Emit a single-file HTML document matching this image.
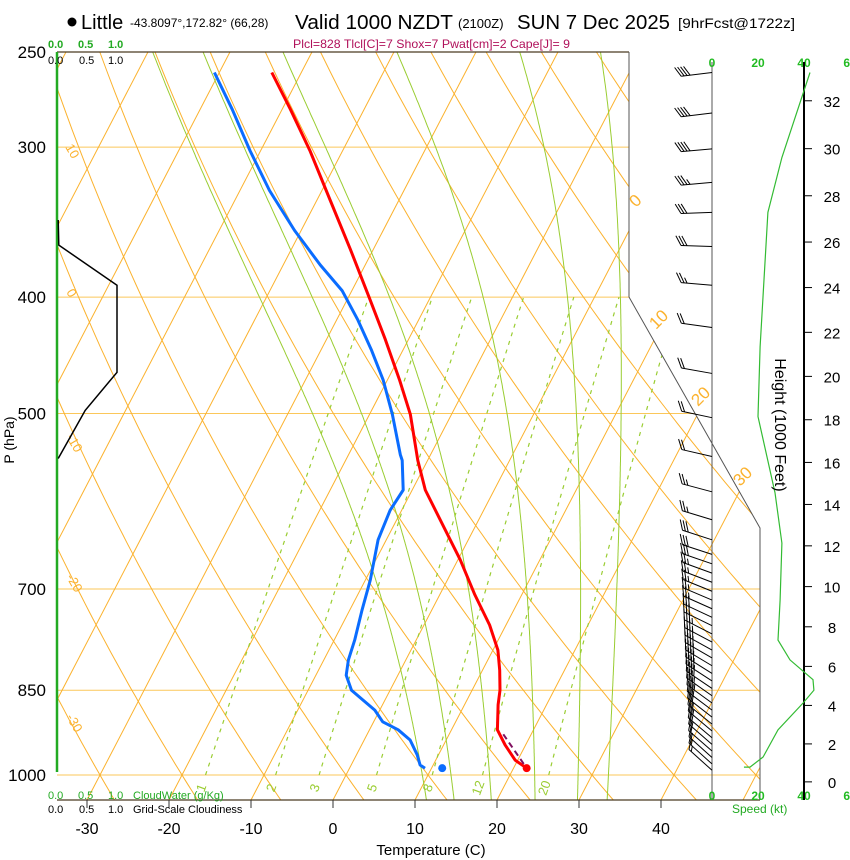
<!DOCTYPE html>
<html><head><meta charset="utf-8"><style>
html,body{margin:0;padding:0;background:#fff}
svg{display:block;font-family:"Liberation Sans",Arial,sans-serif}
</style></head><body>
<svg id="chart" width="850" height="860" viewBox="0 0 850 860" xmlns="http://www.w3.org/2000/svg">
<defs><clipPath id="plotclip"><polygon points="57,52 629,52 629,297 760,528 760,800 57,800"/></clipPath></defs>
<rect x="0" y="0" width="850" height="860" fill="#fff"/>
<g id="grid" clip-path="url(#plotclip)"></g>
<g id="series" clip-path="url(#plotclip)"></g>
<g id="overlay"></g>
<!-- header -->
<circle cx="72" cy="22" r="4.5" fill="#000"/>
<text x="81" y="29" font-size="20">Little</text>
<text x="130" y="27" font-size="12">-43.8097°,172.82° (66,28)</text>
<text x="295" y="29" font-size="20" textLength="158" lengthAdjust="spacingAndGlyphs">Valid 1000 NZDT</text>
<text x="458" y="28" font-size="13">(2100Z)</text>
<text x="517" y="29" font-size="20" textLength="153" lengthAdjust="spacingAndGlyphs">SUN 7 Dec 2025</text>
<text x="678" y="28" font-size="14" textLength="117" lengthAdjust="spacingAndGlyphs">[9hrFcst@1722z]</text>
<text x="293" y="48" font-size="12" fill="#b0105a" textLength="277" lengthAdjust="spacingAndGlyphs">Plcl=828 Tlcl[C]=7 Shox=7 Pwat[cm]=2 Cape[J]= 9</text>
<g font-size="11" fill="#22aa22" font-weight="bold">
<text x="48" y="48">0.0</text><text x="78" y="48">0.5</text><text x="108" y="48">1.0</text></g>
<g font-size="11" fill="#000">
<text x="48" y="64">0.0</text><text x="79" y="64">0.5</text><text x="108" y="64">1.0</text></g>
<g font-size="11" fill="#22aa22">
<text x="48" y="799">0.0</text><text x="78" y="799">0.5</text><text x="108" y="799">1.0</text><text x="133" y="799">CloudWater (g/Kg)</text></g>
<g font-size="11" fill="#000">
<text x="48" y="813">0.0</text><text x="79" y="813">0.5</text><text x="108" y="813">1.0</text><text x="133" y="813">Grid-Scale Cloudiness</text></g>
<text transform="translate(14,440) rotate(-90)" text-anchor="middle" font-size="14">P (hPa)</text>
<text x="431" y="855" text-anchor="middle" font-size="15">Temperature (C)</text>
<text transform="translate(775,425) rotate(90)" text-anchor="middle" font-size="16">Height (1000 Feet)</text>
<text x="732" y="813" font-size="12" fill="#22aa22">Speed (kt)</text>
<script>
// ---- data ----
const tempP = [260,279,302,332,365,402,434,469,501,547,579,613,662,708,750,787,818,850,874,917,944,972,987];
const tempT = [-53.6,-49.0,-44.0,-38.4,-32.8,-27.2,-22.8,-18.5,-15.0,-11.2,-8.4,-4.7,0.3,4.3,8.0,10.6,12.1,13.4,14.1,15.6,17.5,19.7,21.6];
const dewP = [260,279,302,326,352,376,395,418,443,469,501,541,547,579,602,637,688,729,772,802,826,850,866,883,903,917,935,962,981,987];
const dewT = [-60.6,-56.1,-51.3,-46.4,-40.8,-35.5,-31.2,-27.4,-23.8,-20.5,-17.2,-13.7,-13.1,-11.1,-11.4,-11.0,-9.4,-8.5,-7.5,-7.0,-6.3,-4.7,-2.7,-0.6,1.1,3.5,5.6,7.4,8.4,9.2];
const parcelP = [925,987];
const parcelT = [16.6,21.6];
const sfcP = 987, sfcT = 21.6, sfcTd = 11.3;
const cloudP = [345,362,391,462,497,545];
const cloudFrac = [0.02,0.03,1.0,1.0,0.47,0.02];
const windP = [260,281,301,321,340,363,391,424,463,504,543,581,613,637,655,667,679,691,703,715,727,739,751,763,775,787,799,811,823,835,847,859,871,883,895,907,919,931,943,955,967,979,991];
const windDir = [263,263,265,265,268,272,275,278,280,282,283,285,287,288,288,289,290,291,292,293,294,295,296,297,298,299,300,301,302,303,304,305,306,307,308,309,310,310,311,311,312,312,312];
const windSpd = [43,42,40,38,34,30,25,22,21,21,22,26,28,30,30,30,29,29,29,28,29,30,32,35,38,40,42,44,44,42,40,38,35,32,30,28,26,24,22,20,18,17,16];
const spdP = [260,306,340,440,503,582,641,715,772,802,833,850,871,917,966,985];
const spdKt = [42.6,30.4,24.3,20.9,20.0,27.4,30.4,29.6,28.7,33.9,43.9,44.3,39.6,28.7,22.2,16.5];
const tempTicks = [-30,-20,-10,0,10,20,30,40];
const presTicks = [250,300,400,500,700,850,1000];
const heightTicks = [0,2,4,6,8,10,12,14,16,18,20,22,24,26,28,30,32];
const speedTicks = [0,20,40,60];
const mixRatios = [1,2,3,5,8,12,20];
const moistThetaW = [9.3,12.8,17.5,23,28.3,32];

// ---- axis functions ----
const NS='http://www.w3.org/2000/svg';
function yP(p){return 775+521.5*Math.log(p/1000);}
function xT(T,p){return 333+8.2*T+0.52*(800-yP(p));}
function xSpd(s){return 712+2.3*s;}
function yFt(kft){const m=kft*1000*0.3048;const p=1013.25*Math.pow(1-2.25577e-5*m,5.2559);return yP(p);}
function mk(tag,attrs,parent){const e=document.createElementNS(NS,tag);for(const k in attrs)e.setAttribute(k,attrs[k]);parent.appendChild(e);return e;}
const grid=document.getElementById('grid'), series=document.getElementById('series'), ov=document.getElementById('overlay');
const OR='#fbb22e', GR='#9acd32';

// pressure lines
presTicks.forEach(p=>{const l=mk('line',{x1:57,x2:760,y1:yP(p),y2:yP(p),stroke:'#fbc75a','stroke-width':1},grid);
});
// isotherms
for(let T=-130;T<=50;T+=10){const l=mk('line',{x1:333+8.2*T,y1:800,x2:333+8.2*T+0.52*748,y2:52,stroke:OR,'stroke-width':1},grid);
}
// dry adiabats
for(let th=-60;th<=160;th+=10){let pts=[];for(let p=1060;p>=240;p-=10){const T=(th+273.15)*Math.pow(p/1000,0.2857)-273.15;pts.push(xT(T,p).toFixed(1)+','+yP(p).toFixed(1));}
const l=mk('polyline',{points:pts.join(' '),fill:'none',stroke:OR,'stroke-width':1},grid);
}
// moist adiabats
function es(Tc){return 6.112*Math.exp(17.67*Tc/(Tc+243.5));}
function dTdp(Tc,p){const T=Tc+273.15,e=es(Tc),rs=0.622*e/(p-e);return (287*T+2.5e6*rs)/(1005+2.5e6*2.5e6*rs*0.622/(287*T*T))/p;}
moistThetaW.forEach(tw=>{let pts=[];let T=tw;let p=1000;
 // down to 1060
 let Td=tw;for(let q=1000;q<1060;q+=2){Td+=dTdp(Td,q)*2;}
 T=Td;for(p=1060;p>=250;p-=2){pts.push(xT(T,p).toFixed(1)+','+yP(p).toFixed(1));T-=dTdp(T,p)*2;}
 const l=mk('polyline',{points:pts.join(' '),fill:'none',stroke:GR,'stroke-width':1},grid);
 });
// mixing ratio lines
mixRatios.forEach(w=>{let pts=[];for(let p=1000;p>=400;p-=10){const e=w*p/(622+w);const L=Math.log(e/6.112);const Td=243.5*L/(17.67-L);pts.push(xT(Td,p).toFixed(1)+','+yP(p).toFixed(1));}
 const l=mk('polyline',{points:pts.join(' '),fill:'none',stroke:GR,'stroke-width':1.2,'stroke-dasharray':'4,5'},grid);
 
 const e=w*1000/(622+w);const L=Math.log(e/6.112);const Td=243.5*L/(17.67-L);const x=xT(Td,1000)-4;
 const t=mk('text',{x:x,y:792,'font-size':13,fill:GR,'text-anchor':'middle',transform:'rotate(-70 '+x+' 788)'},ov);t.textContent=w;
 });
// grid labels
[[10,65,147],[0,66,292],[-10,66,437],[-20,66,577],[-30,66,717]].forEach(a=>{const t=mk('text',{x:a[1],y:a[2],'font-size':13,fill:OR,transform:'rotate(60 '+a[1]+' '+a[2]+')'},ov);t.textContent=a[0];
 });
[[0,636,208],[10,656,330],[20,698,407],[30,740,487]].forEach(a=>{const t=mk('text',{x:a[1],y:a[2],'font-size':17,fill:OR,transform:'rotate(-45 '+a[1]+' '+a[2]+')'},ov);t.textContent=a[0];
 });

// frame
let f=mk('polyline',{points:'57,52 629,52',stroke:'#4a3a20','stroke-width':1.3,fill:'none'},ov);
f=mk('polyline',{points:'629,52 629,297 760,528 760,800',stroke:'#555','stroke-width':1,fill:'none'},ov);
f=mk('line',{x1:57,y1:800,x2:760,y2:800,stroke:'#4a3a20','stroke-width':1.3},ov);
f=mk('line',{x1:57,y1:52,x2:57,y2:772,stroke:'#22aa22','stroke-width':2.5},ov);
// x ticks
tempTicks.forEach(T=>{const x=333+8.2*T;let l=mk('line',{x1:x,x2:x,y1:800,y2:808,stroke:'#333'},ov);
 const t=mk('text',{x:x,y:834,'text-anchor':'middle','font-size':16},ov);t.textContent=T;});
// y labels
presTicks.forEach(p=>{const t=mk('text',{x:46,y:yP(p)+6,'text-anchor':'end','font-size':17},ov);t.textContent=p;});
// speed axis
let sa=mk('line',{x1:712,x2:712,y1:62,y2:800,stroke:'#555','stroke-width':1},ov);
speedTicks.forEach(s=>{[67,800].forEach(yy=>{const t=mk('text',{x:xSpd(s),y:yy,'text-anchor':'middle','font-size':12,'font-weight':'bold',fill:'#22bb22'},ov);t.textContent=s;
 });});
// height axis
let ha=mk('line',{x1:804,x2:804,y1:62,y2:800,stroke:'#000','stroke-width':2},ov);
heightTicks.forEach(h=>{const y=yFt(h);let l=mk('line',{x1:804,x2:812,y1:y,y2:y,stroke:'#000'},ov);
 const t=mk('text',{x:832,y:y+6,'text-anchor':'middle','font-size':15},ov);t.textContent=h;});
// speed profile
let sp=mk('polyline',{points:spdP.map((p,i)=>xSpd(spdKt[i]).toFixed(1)+','+yP(p).toFixed(1)).join(' ')+' '+(xSpd(spdKt[spdKt.length-1])-6)+','+yP(985).toFixed(1),fill:'none',stroke:'#33bb33','stroke-width':1.2},ov);

// cloud fraction
let cf=mk('polyline',{points:cloudP.map((p,i)=>(57+60*cloudFrac[i]).toFixed(1)+','+yP(p).toFixed(1)).join(' '),fill:'none',stroke:'#000','stroke-width':1.5},ov);


// sounding
let tl=mk('polyline',{points:tempP.map((p,i)=>xT(tempT[i],p).toFixed(1)+','+yP(p).toFixed(1)).join(' '),fill:'none',stroke:'#ff0000','stroke-width':3,'stroke-linejoin':'round'},series);

let dl=mk('polyline',{points:dewP.map((p,i)=>xT(dewT[i],p).toFixed(1)+','+yP(p).toFixed(1)).join(' '),fill:'none',stroke:'#0a6cff','stroke-width':3,'stroke-linejoin':'round'},series);

let pl=mk('polyline',{points:parcelP.map((p,i)=>xT(parcelT[i],p).toFixed(1)+','+yP(p).toFixed(1)).join(' '),fill:'none',stroke:'#801060','stroke-width':2,'stroke-dasharray':'6,4'},series);

let c1=mk('circle',{cx:xT(sfcT,sfcP),cy:yP(sfcP),r:4,fill:'#ff0000'},series);
let c2=mk('circle',{cx:xT(sfcTd,sfcP),cy:yP(sfcP),r:4,fill:'#0a6cff'},series);

// wind barbs
windP.forEach((p,i)=>{const g=mk('g',{},ov);
 const y=yP(p),x=712,L=31,d=windDir[i]*Math.PI/180;const ux=Math.sin(d),uy=-Math.cos(d);
 const tx=x+ux*L,ty=y+uy*L;mk('line',{x1:x,y1:y,x2:tx,y2:ty,stroke:'#000','stroke-width':1},g);
 const a=Math.PI/3;const fx=ux*Math.cos(a)-uy*Math.sin(a)*-1,fy=ux*Math.sin(a)*-1+uy*Math.cos(a);
 // feather direction: rotate staff so it points "up"
 let vx=ux*Math.cos(-a)-uy*Math.sin(-a), vy=ux*Math.sin(-a)+uy*Math.cos(-a);
 if(vy>0){vx=ux*Math.cos(a)-uy*Math.sin(a);vy=ux*Math.sin(a)+uy*Math.cos(a);}
 let s=windSpd[i],k=0;
 while(s>=10){const bx=tx-ux*k*3,by=ty-uy*k*3;mk('line',{x1:bx,y1:by,x2:bx+vx*11,y2:by+vy*11,stroke:'#000','stroke-width':1},g);s-=10;k++;}
 if(s>=5){const bx=tx-ux*k*3,by=ty-uy*k*3;mk('line',{x1:bx,y1:by,x2:bx+vx*6,y2:by+vy*6,stroke:'#000','stroke-width':1},g);}
});
</script>
</svg>
</body></html>
